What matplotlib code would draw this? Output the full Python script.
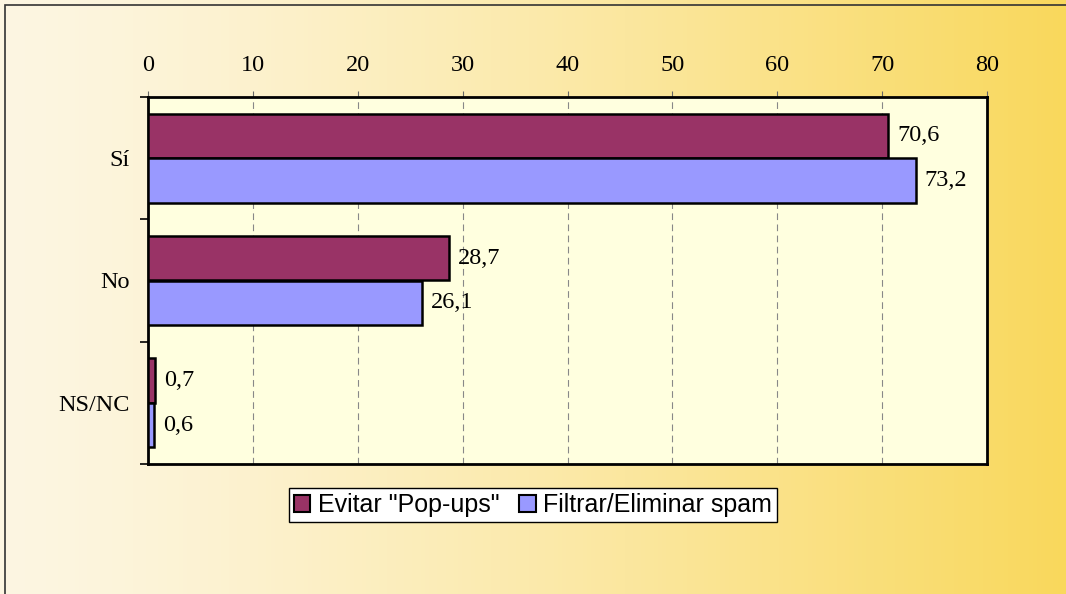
import numpy as np
import matplotlib.pyplot as plt
from matplotlib.patches import Rectangle

categorias = ['Sí', 'No', 'NS/NC']
popups = [70.6, 28.7, 0.7]
spam = [73.2, 26.1, 0.6]
etiquetas_popups = ['70,6', '28,7', '0,7']
etiquetas_spam = ['73,2', '26,1', '0,6']
series = ['Evitar "Pop-ups"', 'Filtrar/Eliminar spam']

serif = 'Liberation Serif'
sans = 'Liberation Sans'
fs = 17.5

fig = plt.figure(figsize=(10.66, 5.94), dpi=100)

# fondo degradado de la figura
bg = fig.add_axes([0, 0, 1, 1], zorder=-10)
grad = np.linspace(0, 1, 256)
c0 = np.array([253, 246, 226]) / 255
c1 = np.array([249, 216, 92]) / 255
img = c0[None, :] + (c1 - c0)[None, :] * (grad ** 1.3)[:, None]
bg.imshow(img[None, :, :], aspect='auto', extent=[0, 1, 0, 1])
bg.set_xlim(0, 1)
bg.set_ylim(0, 1)
bg.axis('off')
bg.add_patch(Rectangle((5 / 1066, -0.1), 2, 1.1 - 5 / 594, transform=bg.transAxes,
                       fill=False, edgecolor='#333333', lw=1.2, clip_on=False))

ax = fig.add_axes([148 / 1066, 1 - 464 / 594, (987 - 148) / 1066, (464 - 97) / 594])
ax.set_facecolor('#FFFFDF')

y = np.arange(len(categorias)) + 0.5
h = 0.365
ax.barh(y - h / 2, popups, height=h, color='#993366', edgecolor='black', lw=1.8, zorder=3)
ax.barh(y + h / 2, spam, height=h, color='#9999FF', edgecolor='black', lw=1.8, zorder=3)

for i in range(len(categorias)):
    ax.text(popups[i] + 0.85, y[i] - h / 2, etiquetas_popups[i], va='center', ha='left',
            fontsize=fs, family=serif)
    ax.text(spam[i] + 0.85, y[i] + h / 2, etiquetas_spam[i], va='center', ha='left',
            fontsize=fs, family=serif)

ax.set_xlim(0, 80)
ax.set_ylim(3, 0)
ax.set_xticks(range(0, 81, 10))
ax.xaxis.tick_top()
ax.tick_params(axis='x', direction='out', length=4, width=0.8, color='#666666',
               labelsize=fs, pad=11)
for lab in ax.get_xticklabels():
    lab.set_family(serif)
ax.grid(axis='x', color='#888888', ls=(0, (6, 4)), lw=0.8, zorder=1)

ax.set_yticks([0, 1, 2, 3])
ax.set_yticklabels([])
ax.set_yticks(y, minor=True)
ax.set_yticklabels(categorias, minor=True, fontsize=fs, family=serif)
ax.tick_params(axis='y', which='major', direction='out', length=6, width=1.2)
ax.tick_params(axis='y', which='minor', length=0, pad=13)

for s in ax.spines.values():
    s.set_linewidth(2)
    s.set_color('black')

handles = [Rectangle((0, 0), 1, 1, facecolor='#993366', edgecolor='black', lw=1.5),
           Rectangle((0, 0), 1, 1, facecolor='#9999FF', edgecolor='black', lw=1.5)]
leg = fig.legend(handles, series, loc='center', bbox_to_anchor=(533 / 1066, 1 - 505 / 594),
                 ncol=2, frameon=True, fancybox=False, prop={'family': sans, 'size': 18},
                 handlelength=0.65, handleheight=0.65, handletextpad=0.3, columnspacing=0.8,
                 borderpad=0.2, borderaxespad=0)
leg.get_frame().set_edgecolor('black')
leg.get_frame().set_linewidth(1.0)
leg.get_frame().set_facecolor('white')
leg.get_frame().set_alpha(1)

fig.savefig('out.png', dpi=100)
